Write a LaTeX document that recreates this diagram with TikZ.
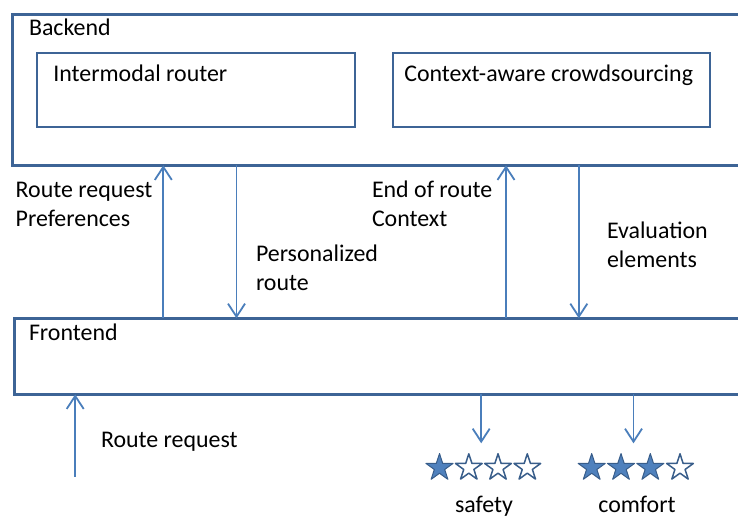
\documentclass[tikz,border=0pt]{standalone}
\usepackage{fontspec}
\setmainfont{Carlito}
\usetikzlibrary{arrows.meta,shapes.geometric}
\definecolor{boxline}{HTML}{3D6496}
\definecolor{arrline}{HTML}{4A7EBB}
\definecolor{starfill}{HTML}{4F81BD}
\definecolor{starline}{HTML}{385D8A}
\tikzset{
  box/.style={draw=boxline, line width=2.4pt, rectangle, inner sep=0pt, outer sep=0pt, anchor=north west},
  lbl/.style={inner sep=0pt, outer sep=0pt, anchor=base west, align=left, font=\fontsize{23.9}{29}\selectfont},
  arr/.style={draw=arrline, line width=1.8pt, -{Straight Barb[length=13pt,width=17pt,line width=1.8pt]}},
  fullstar/.style={star, star points=5, star point ratio=2.618, minimum size=28.5pt, inner sep=0pt, fill=starfill, draw=starline, line width=1pt, line join=round},
  emptystar/.style={star, star points=5, star point ratio=2.618, minimum size=28pt, inner sep=0pt, fill=white, draw=starline, line width=1.5pt, line join=round},
}
\begin{document}
\begin{tikzpicture}[x=1pt,y=-1pt]
\useasboundingbox (0,0) rectangle (738,515);
\clip (0,0) rectangle (738,515);
% boxes
\node[box, minimum width=747.5pt, minimum height=151pt] (back) at (12.5,14.3) {};
\node[box, minimum width=318pt, minimum height=74pt] (router) at (37,53) {};
\node[box, minimum width=317pt, minimum height=74pt] (crowd) at (392.7,53) {};
\node[box, minimum width=745.7pt, minimum height=76pt] (front) at (14.3,318.3) {};
% box titles
\node[lbl] (tback) at (29,35.7) {Backend};
\node[lbl] (trouter) at (53.3,81) {Intermodal router};
\node[lbl] (tcrowd) at (404.3,81) {Context-aware crowdsourcing};
\node[lbl] (tfront) at (29,340) {Frontend};
% connectors between frontend and backend
\coordinate (x1) at (163.3,0);
\coordinate (x2) at (236.5,0);
\coordinate (x3) at (506,0);
\coordinate (x4) at (578.8,0);
\draw[arr] (front.north -| x1) -- (back.south -| x1);
\draw[arr] (back.south -| x2) -- (front.north -| x2);
\draw[arr] (front.north -| x3) -- (back.south -| x3);
\draw[arr] (back.south -| x4) -- (front.north -| x4);
% labels
\node[lbl] (l1a) at (15.7,197.7) {Route request};
\node[lbl] (l1b) at (15.7,226.7) {Preferences};
\node[lbl] (l2a) at (256,261.7) {Personalized};
\node[lbl] (l2b) at (256,290.5) {route};
\node[lbl] (l3a) at (372,197.7) {End of route};
\node[lbl] (l3b) at (372,226.7) {Context};
\node[lbl] (l4a) at (607,238.3) {Evaluation};
\node[lbl] (l4b) at (607,267) {elements};
% input arrow
\coordinate (rrstart) at (75.2,476.7);
\draw[arr] (rrstart) -- (front.south -| rrstart);
\node[lbl] (l5) at (101,447.7) {Route request};
% output arrows
\coordinate (s1) at (481.2,443.3);
\coordinate (s2) at (633.5,443.3);
\draw[arr] (front.south -| s1) -- (s1);
\draw[arr] (front.south -| s2) -- (s2);
% stars
\node[fullstar] (sa1) at (439.5,467.8) {};
\node[emptystar] (sa2) at (468.8,467.8) {};
\node[emptystar] (sa3) at (498,467.8) {};
\node[emptystar] (sa4) at (527.3,467.8) {};
\node[fullstar] (sc1) at (591.7,467.8) {};
\node[fullstar] (sc2) at (621,467.8) {};
\node[fullstar] (sc3) at (650.3,467.8) {};
\node[emptystar] (sc4) at (680,467.8) {};
\node[lbl, anchor=base] (safety) at (484,512.5) {safety};
\node[lbl, anchor=base] (comfort) at (637,512.5) {comfort};
\end{tikzpicture}
\end{document}
